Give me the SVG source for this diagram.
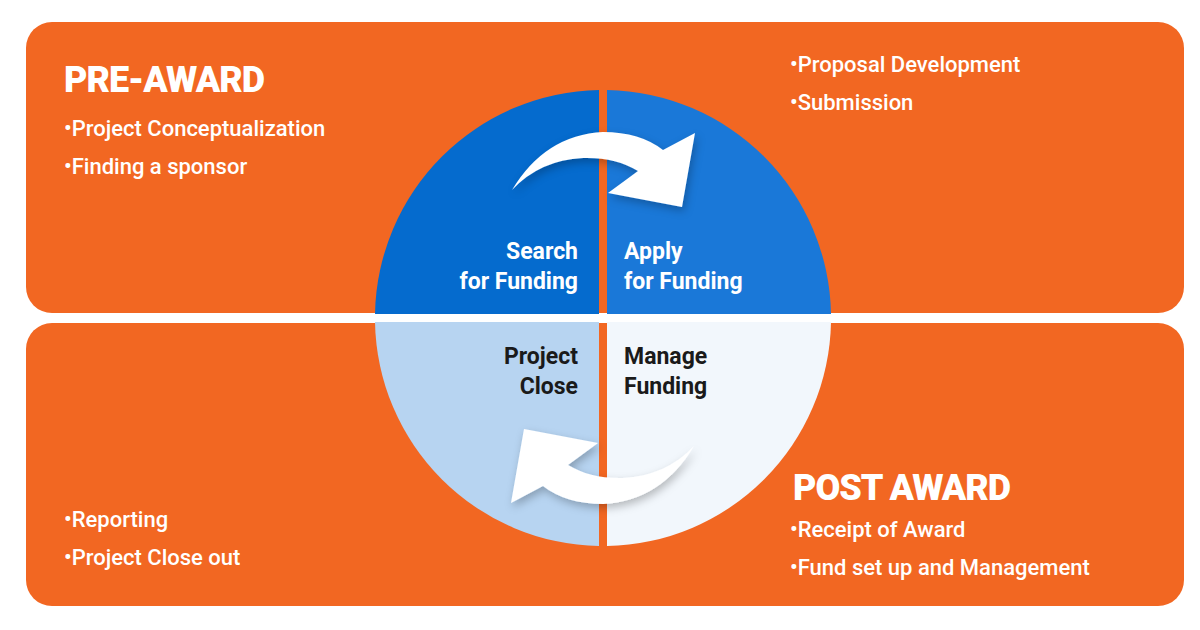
<svg xmlns="http://www.w3.org/2000/svg" width="1200" height="630" viewBox="0 0 1200 630">
<style>
.b{font-family:Roboto,"Liberation Sans",sans-serif;font-weight:500;font-size:22px;fill:#fff}
.h{font-family:Roboto,"Liberation Sans",sans-serif;font-weight:900;font-size:36px;fill:#fff;letter-spacing:-1px}
.c{font-family:Roboto,"Liberation Sans",sans-serif;font-weight:700;font-size:23px}
</style>
<defs><filter id="sh" x="-20%" y="-20%" width="140%" height="140%"><feDropShadow dx="2" dy="4" stdDeviation="4" flood-color="#000" flood-opacity="0.25"/></filter></defs>
<rect width="1200" height="630" fill="#fff"/>
<g id="pre-award">
<rect x="26" y="22" width="1158" height="291" rx="26" fill="#F26722"/>
<text class="h" x="64" y="92">PRE-AWARD</text>
<text class="b" x="64" y="136">•Project Conceptualization</text>
<text class="b" x="64" y="174">•Finding a sponsor</text>
<text class="b" x="790" y="72">•Proposal Development</text>
<text class="b" x="790" y="110">•Submission</text>
</g>
<g id="post-award">
<rect x="26" y="323" width="1158" height="283" rx="26" fill="#F26722"/>
<text class="h" x="793" y="500">POST AWARD</text>
<text class="b" x="790" y="537">•Receipt of Award</text>
<text class="b" x="790" y="575">•Fund set up and Management</text>
<text class="b" x="64" y="527">•Reporting</text>
<text class="b" x="64" y="565">•Project Close out</text>
</g>
<g id="search"><path d="M599,90 A228,228 0 0 0 375,314 L599,314 Z" fill="#056BCE"/><text class="c" fill="#fff" text-anchor="end" x="578" y="259">Search</text><text class="c" fill="#fff" text-anchor="end" x="578" y="289">for Funding</text></g>
<g id="apply"><path d="M607,90 A228,228 0 0 1 831,314 L607,314 Z" fill="#1A78D8"/><text class="c" fill="#fff" x="624" y="259">Apply</text><text class="c" fill="#fff" x="624" y="289">for Funding</text></g>
<g id="close"><path d="M599,546 A228,228 0 0 1 375,322 L599,322 Z" fill="#B7D4F1"/><text class="c" fill="#1a1a1a" text-anchor="end" x="578" y="364">Project</text><text class="c" fill="#1a1a1a" text-anchor="end" x="578" y="394">Close</text></g>
<g id="manage"><path d="M607,546 A228,228 0 0 0 831,322 L607,322 Z" fill="#F2F7FC"/><text class="c" fill="#1a1a1a" x="624" y="364">Manage</text><text class="c" fill="#1a1a1a" x="624" y="394">Funding</text></g>
<g id="connectors" fill="#fff" filter="url(#sh)">
<path d="M512,190 Q545,135 603,132 Q640,132 663,150 L695,133 L682,207 L608,193 L638,171 Q615,157 583,158 Q540,160 512,190 Z"/>
<path transform="rotate(180 603 318)" d="M512,190 Q545,135 603,132 Q640,132 663,150 L695,133 L682,207 L608,193 L638,171 Q615,157 583,158 Q540,160 512,190 Z"/>
</g>
</svg>
